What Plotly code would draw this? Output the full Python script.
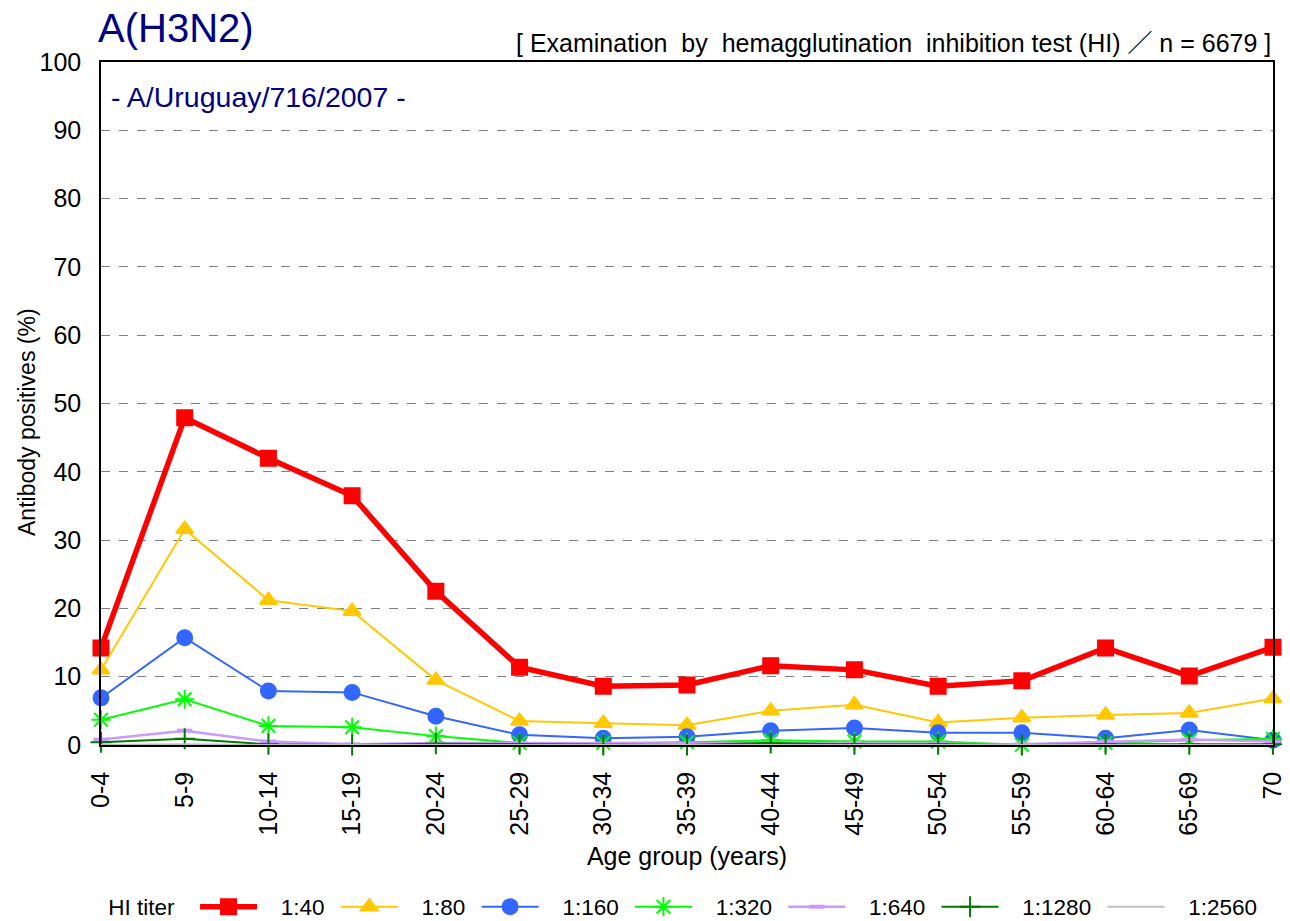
import plotly.graph_objects as go

age_groups = ["0-4", "5-9", "10-14", "15-19", "20-24", "25-29", "30-34", "35-39",
              "40-44", "45-49", "50-54", "55-59", "60-64", "65-69", "70"]

titer_labels = ["1:40", "1:80", "1:160", "1:320", "1:640", "1:1280", "1:2560"]

hi_40 = [14.2, 47.9, 42.0, 36.5, 22.5, 11.4, 8.6, 8.8, 11.6, 11.0, 8.6, 9.4, 14.2, 10.1, 14.3]
hi_80 = [11.0, 31.6, 21.2, 19.6, 9.5, 3.5, 3.2, 2.9, 5.0, 5.9, 3.3, 4.0, 4.4, 4.7, 6.8]
hi_160 = [6.9, 15.7, 7.9, 7.7, 4.2, 1.5, 1.0, 1.2, 2.1, 2.5, 1.8, 1.8, 1.0, 2.2, 0.7]
hi_320 = [3.7, 6.7, 2.8, 2.6, 1.3, 0.3, 0.3, 0.4, 0.7, 0.5, 0.5, 0.0, 0.3, 0.7, 0.9]
hi_640 = [0.8, 2.1, 0.5, 0.1, 0.3, 0.3, 0.2, 0.2, 0.3, 0.3, 0.2, 0.1, 0.5, 0.8, 0.5]
hi_1280 = [0.4, 0.9, 0.1, 0.0, 0.2, 0.1, 0.0, 0.0, 0.3, 0.1, 0.1, 0.0, 0.1, 0.1, 0.1]
hi_2560 = [0.0, 0.1, 0.0, 0.0, 0.0, 0.0, 0.0, 0.0, 0.1, 0.0, 0.0, 0.0, 0.0, 0.0, 0.0]

series = [hi_40, hi_80, hi_160, hi_320, hi_640, hi_1280, hi_2560]
colors = ["#FF0000", "#FFC800", "#3366FF", "#00FF00", "#CC99FF", "#007A00", "#C0C0C0"]
line_widths = [5.5, 2, 2, 2, 2.5, 2, 2]
symbols = ["square", "triangle-up", "circle", "asterisk-open", "line-ew-open", "cross-thin-open", None]
marker_sizes = [15, 15, 15, 16, 11, 15, 0]

FONT = "Arial, 'Liberation Sans', 'Noto Sans CJK JP', sans-serif"
NB = "\u00a0"
S2 = NB + NB

fig = go.Figure()
for name, vals, col, lw, sym, ms in zip(titer_labels, series, colors, line_widths, symbols, marker_sizes):
    label = NB * 3 + name + NB
    if sym is None:
        fig.add_trace(go.Scatter(x=age_groups, y=vals, name=label, mode="lines",
                                 line=dict(color=col, width=lw), cliponaxis=False))
    else:
        mline = dict(color=col, width=2)
        if sym == "line-ew-open":
            mline = dict(color=col, width=4)
        fig.add_trace(go.Scatter(x=age_groups, y=vals, name=label, mode="lines+markers",
                                 line=dict(color=col, width=lw),
                                 marker=dict(symbol=sym, size=ms, color=col, line=mline),
                                 cliponaxis=False))

header = ("[ Examination" + S2 + "by" + S2 + "hemagglutination" + S2 + "inhibition test"
          " (HI) \uff0f n = 6679 ]")

# the page body has an 8px margin; the figure is sized so the plot lands where the reference has it
fig.update_layout(
    width=1282, height=913,
    margin=dict(l=93, r=17, t=54, b=176, autoexpand=False),
    paper_bgcolor="white", plot_bgcolor="white",
    font=dict(family=FONT, size=23, color="black"),
    showlegend=True,
    legend=dict(orientation="h", x=0.0045, xanchor="left", y=-0.2372, yanchor="middle",
                title=dict(text="HI titer" + S2, font=dict(size=22.5)),
                font=dict(size=22.5), itemwidth=57, bgcolor="rgba(0,0,0,0)"),
    xaxis=dict(type="category", range=[0, 14], showgrid=False, zeroline=False,
               showline=True, linecolor="black", linewidth=1.5, mirror=True,
               tickangle=-90, tickfont=dict(size=25), ticks="", ticklabelstandoff=15,
               automargin=False,
               title=dict(text="Age group (years)", font=dict(size=25), standoff=13)),
    yaxis=dict(range=[0, 100], dtick=10, showgrid=True, gridcolor="#808080", griddash="dash",
               gridwidth=1, zeroline=False, showline=True, linecolor="black", linewidth=1.5,
               mirror=True, tickfont=dict(size=25), ticks="", ticklabelstandoff=13,
               automargin=False, title=dict(text="")),
    annotations=[
        dict(text="Antibody positives (%)", xref="paper", yref="paper", x=-0.0631, y=0.473,
             xanchor="center", yanchor="middle", textangle=-90, showarrow=False,
             font=dict(size=23, color="black")),
        dict(text="A(H3N2)", xref="paper", yref="paper", x=-0.004, y=1.05,
             xanchor="left", yanchor="middle", showarrow=False,
             font=dict(size=40, color="#000080")),
        dict(text="- A/Uruguay/716/2007 -", xref="paper", yref="paper", x=0.007, y=0.949,
             xanchor="left", yanchor="middle", showarrow=False,
             font=dict(size=28.5, color="#000080")),
        dict(text=header, xref="paper", yref="paper", x=1.0, y=1.028,
             xanchor="right", yanchor="middle", showarrow=False,
             font=dict(size=25, color="black")),
    ],
)

fig.write_html("out.html")
